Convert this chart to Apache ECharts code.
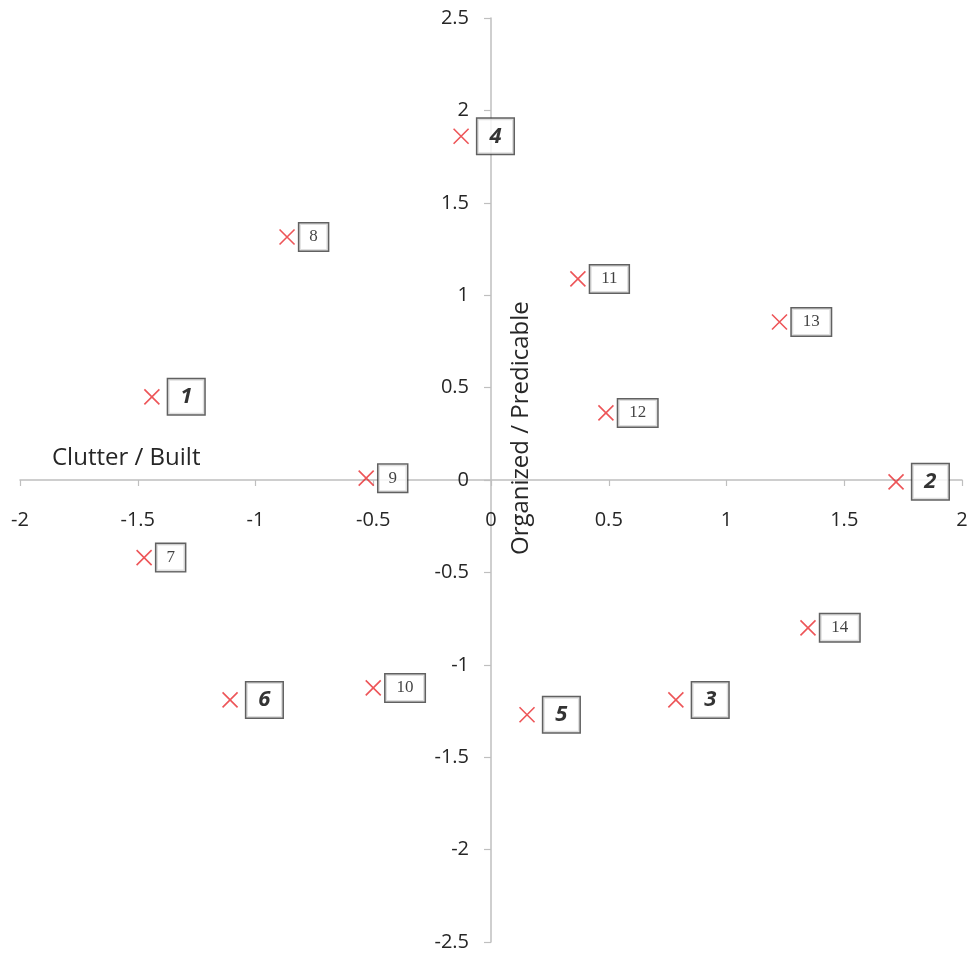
<!DOCTYPE html>
<html>
<head>
<meta charset="utf-8">
<script src="https://cdn.jsdelivr.net/npm/echarts@6/dist/echarts.min.js"></script>
<style>html,body{margin:0;padding:0;background:#fff}#c{width:971px;height:956px}</style>
</head>
<body>
<div id="c"></div>
<script>
const labels = ['1','2','3','4','5','6','7','8','9','10','11','12','13','14'];
const xValues = [-1.44, 1.72, 0.785, -0.127, 0.153, -1.108, -1.473, -0.866, -0.53, -0.50, 0.369, 0.488, 1.225, 1.346];
const yValues = [0.45, -0.01, -1.19, 1.86, -1.27, -1.19, -0.42, 1.315, 0.01, -1.125, 1.088, 0.363, 0.855, -0.80];
const xTicks = [-2, -1.5, -1, -0.5, 0, 0.5, 1, 1.5, 2];
const yTicks = [-2.5, -2, -1.5, -1, -0.5, 0, 0.5, 1, 1.5, 2, 2.5];
const xTitle = 'Clutter / Built';
const yTitle = 'Organized / Predicable';

const W = 971, H = 956;
const G = { left: 20, right: 9, top: 18, bottom: 14 };
const gridW = W - G.left - G.right, gridH = H - G.top - G.bottom;
const xMin = xTicks[0], xMax = xTicks[xTicks.length - 1];
const yMin = yTicks[0], yMax = yTicks[yTicks.length - 1];

const chart = echarts.init(document.getElementById('c'));
const data = labels.map((l, i) => {
  const n = parseInt(l, 10);
  const major = n <= 6;
  return {
    value: [xValues[i], yValues[i]],
    label: major ? {
      fontFamily: 'Open Sans', fontWeight: 'bold', fontStyle: 'italic', fontSize: 22, color: '#000',
      lineHeight: 26, padding: [5, 12, 4, 12], distance: 8
    } : {
      fontFamily: 'Liberation Serif', fontSize: 17, color: '#111',
      lineHeight: 20, padding: [4, l.length > 1 ? 11 : 10, 3, l.length > 1 ? 11 : 10], distance: 4
    }
  };
});
const fmt = v => (Math.round(v * 10) / 10).toString();
chart.setOption({
  animation: false,
  backgroundColor: '#fff',
  grid: Object.assign({ outerBoundsMode: 'none', containLabel: false }, G),
  xAxis: {
    type: 'value', min: xMin, max: xMax, interval: 0.5,
    position: 'bottom',
    offset: -gridH * (0 - yMin) / (yMax - yMin),
    splitLine: { show: false },
    axisLine: { onZero: false, lineStyle: { color: '#bfbfbf', width: 1.5 } },
    axisTick: { show: true, inside: false, length: 6, lineStyle: { color: '#bfbfbf', width: 1.2 } },
    axisLabel: { margin: 30, fontFamily: 'Open Sans', fontSize: 20, color: '#262626', formatter: fmt, showMinLabel: true, showMaxLabel: true, hideOverlap: false }
  },
  yAxis: {
    type: 'value', min: yMin, max: yMax, interval: 0.5,
    position: 'left',
    offset: -gridW * (0 - xMin) / (xMax - xMin),
    splitLine: { show: false },
    axisLine: { onZero: false, lineStyle: { color: '#bfbfbf', width: 1.5 } },
    axisTick: { show: true, inside: false, length: 7, lineStyle: { color: '#bfbfbf', width: 1.2 } },
    axisLabel: { margin: 22, fontFamily: 'Open Sans', fontSize: 20, color: '#262626', formatter: fmt, showMinLabel: true, showMaxLabel: true, hideOverlap: false }
  },
  graphic: [
    { type: 'text', left: 52, top: 446, style: { text: xTitle, font: '24px "Open Sans"', fill: '#262626' } },
    { type: 'text', x: 509, y: 555, rotation: Math.PI / 2, style: { text: yTitle, font: '24px "Open Sans"', fill: '#262626' } }
  ],
  series: [{
    type: 'scatter',
    data: data,
    symbol: 'path://M0,0L10,10M10,0L0,10',
    symbolSize: 15,
    itemStyle: { color: 'rgba(0,0,0,0)', borderColor: '#e82a2e', borderWidth: 1.6 },
    label: {
      show: true, position: 'right', formatter: p => labels[p.dataIndex],
      align: 'left', verticalAlign: 'middle',
      backgroundColor: '#fff', borderColor: '#3a3a3a', borderWidth: 1.5
    },
    z: 5
  }]
});
</script>
</body>
</html>
